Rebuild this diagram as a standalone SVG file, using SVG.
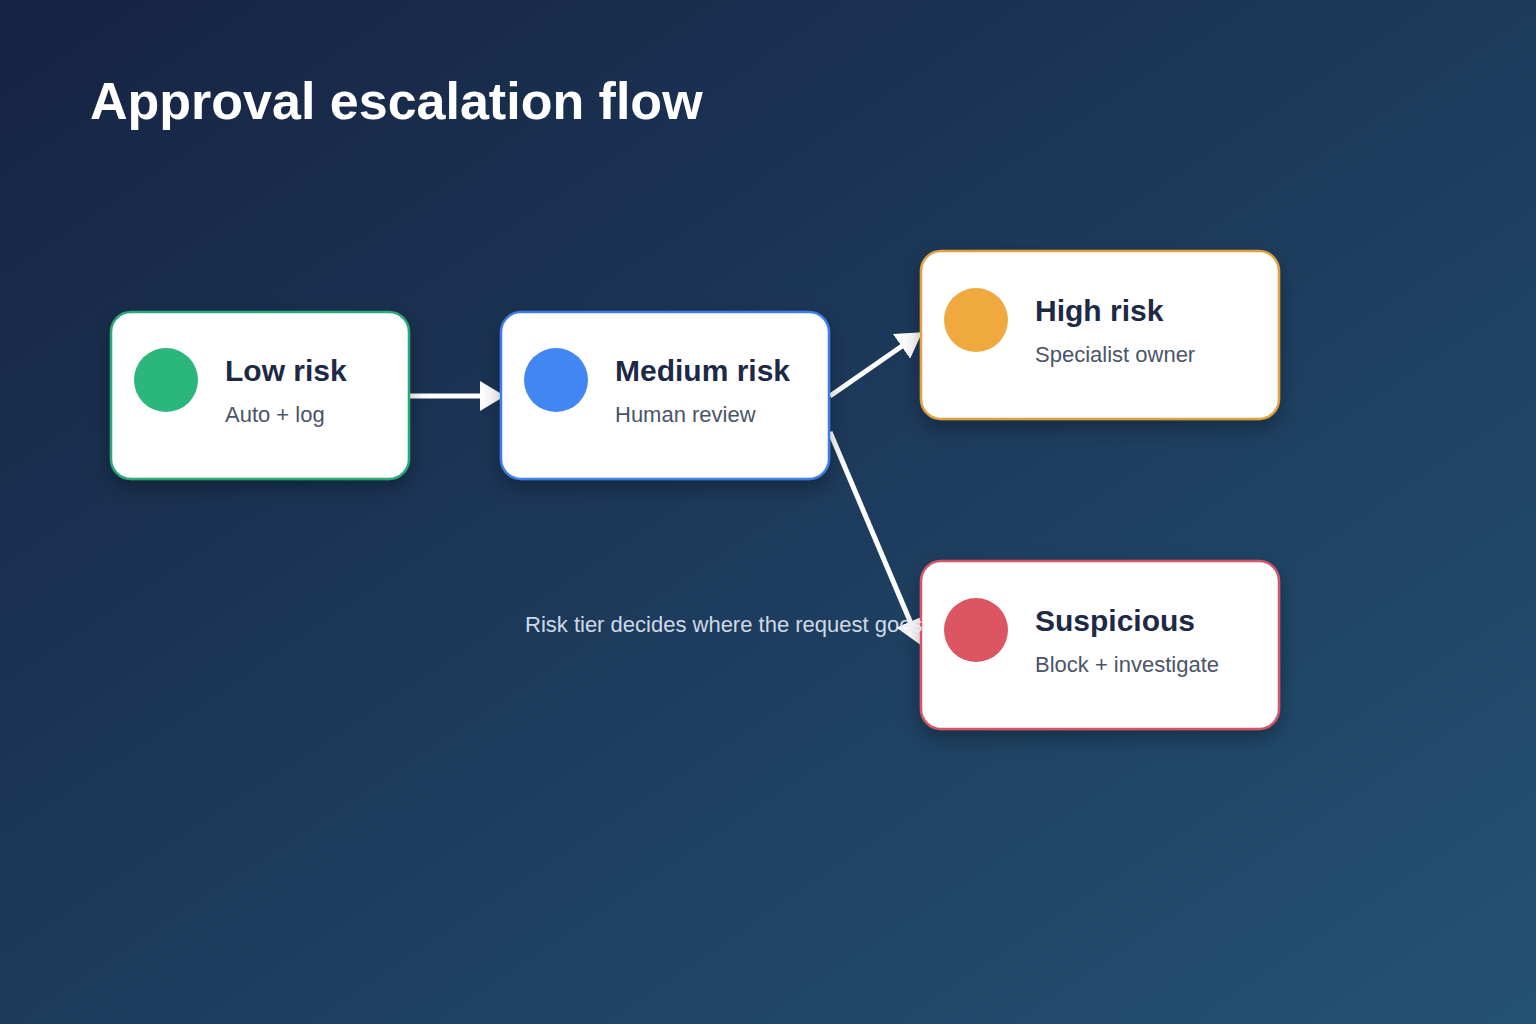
<svg xmlns="http://www.w3.org/2000/svg" width="1536" height="1024" viewBox="0 0 1536 1024">
<defs>
<linearGradient id="bg" x1="0" y1="0" x2="1" y2="1"><stop offset="0" stop-color="#162342"/><stop offset="1" stop-color="#245274"/></linearGradient>
<filter id="sh" x="-20%" y="-20%" width="140%" height="150%"><feDropShadow dx="0" dy="8" stdDeviation="10" flood-color="#000" flood-opacity="0.3"/></filter>
<marker id="ah" markerWidth="5" markerHeight="6" refX="4" refY="3" orient="auto" markerUnits="strokeWidth"><path d="M0,0 L5,3 L0,6 Z" fill="#fff"/></marker>
<style>
.box{fill:#fff;stroke-width:2.5;filter:url(#sh)}
.t{font-family:"Liberation Sans",Arial,sans-serif;font-weight:bold;font-size:30px;fill:#1e2a45}
.s{font-family:"Liberation Sans",Arial,sans-serif;font-size:22px;fill:#4a5568}
.c{stroke:#fff;stroke-width:5;fill:none;marker-end:url(#ah)}
</style>
</defs>
<rect width="1536" height="1024" fill="url(#bg)"/>
<text x="90" y="119" font-family="Liberation Sans,Arial,sans-serif" font-weight="bold" font-size="52" fill="#fff">Approval escalation flow</text>
<g id="connectors">
<line class="c" x1="410" y1="396" x2="500" y2="396"/>
<line class="c" x1="830" y1="396" x2="918" y2="335"/>
<line class="c" x1="830" y1="432" x2="918" y2="640"/>
</g>
<g id="low"><rect class="box" x="111" y="312" width="298" height="167" rx="20" stroke="#2aa876"/><circle cx="166" cy="380" r="32" fill="#2bb67b"/><text class="t" x="225" y="381">Low risk</text><text class="s" x="225" y="422">Auto + log</text></g>
<g id="medium"><rect class="box" x="501" y="312" width="328" height="167" rx="20" stroke="#3b7ee6"/><circle cx="556" cy="380" r="32" fill="#4286f4"/><text class="t" x="615" y="381">Medium risk</text><text class="s" x="615" y="422">Human review</text></g>
<g id="high"><rect class="box" x="921" y="251" width="358" height="168" rx="20" stroke="#e0a040"/><circle cx="976" cy="320" r="32" fill="#efa93f"/><text class="t" x="1035" y="321">High risk</text><text class="s" x="1035" y="362">Specialist owner</text></g>
<g id="suspicious"><rect class="box" x="921" y="561" width="358" height="168" rx="20" stroke="#d45565"/><circle cx="976" cy="630" r="32" fill="#dc5563"/><text class="t" x="1035" y="631">Suspicious</text><text class="s" x="1035" y="672">Block + investigate</text></g>
<text x="525" y="632" font-family="Liberation Sans,Arial,sans-serif" font-size="22" fill="#e6eefa" fill-opacity="0.9">Risk tier decides where the request goes</text>
</svg>
